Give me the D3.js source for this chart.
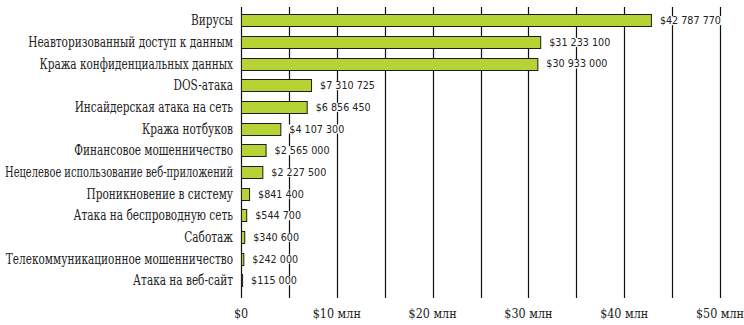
<!DOCTYPE html>
<html><head><meta charset="utf-8">
<script src="https://cdn.jsdelivr.net/npm/d3@7"></script>
<style>html,body{margin:0;padding:0;background:#fff;}svg{display:block;}</style>
</head><body>
<svg id="c" width="744" height="325"></svg>
<script>
const categories = [
  "Вирусы",
  "Неавторизованный доступ к данным",
  "Кража конфиденциальных данных",
  "DOS-атака",
  "Инсайдерская атака на сеть",
  "Кража нотбуков",
  "Финансовое мошенничество",
  "Нецелевое использование веб-приложений",
  "Проникновение в систему",
  "Атака на беспроводную сеть",
  "Саботаж",
  "Телекоммуникационное мошенничество",
  "Атака на веб-сайт"
];
const values = [42787770, 31233100, 30933000, 7310725, 6856450, 4107300, 2565000, 2227500, 841400, 544700, 340600, 242000, 115000];
const gridTicks = [0, 5e6, 10e6, 15e6, 20e6, 25e6, 30e6, 35e6, 40e6, 45e6, 50e6];
const tickLabels = [0, 10e6, 20e6, 30e6, 40e6, 50e6];

const svg = d3.select("#c");
const x = d3.scaleLinear().domain([0, 50e6]).range([241, 720]);
const y = d3.scaleBand().domain(categories).range([9.5, 291.3]).paddingInner(0.44).paddingOuter(0.22);

const serif = "'DejaVu Serif Condensed','DejaVu Serif','Liberation Serif',serif";
const sans = "'DejaVu Sans',Verdana,sans-serif";

// gridlines
svg.append("g").selectAll("line").data(gridTicks).join("line")
  .attr("x1", d => Math.round(x(d)) + 0.5).attr("x2", d => Math.round(x(d)) + 0.5)
  .attr("y1", 7).attr("y2", 298)
  .attr("stroke", "#111").attr("stroke-width", 1.2);

// axis labels
const fmtAxis = d => d === 0 ? "$0" : "$" + (d / 1e6) + " млн";
svg.append("g").selectAll("text").data(tickLabels).join("text")
  .attr("x", d => x(d)).attr("y", 318)
  .attr("text-anchor", "middle")
  .attr("font-family", serif).attr("font-size", 13.5).attr("fill", "#222")
  .attr("transform", d => `translate(${x(d)},0) scale(0.92,1) translate(${-x(d)},0)`)
  .text(fmtAxis);

// category labels (condensed slab look)
const sx = 0.836, maxW = 228;
svg.append("g").attr("transform", `translate(233,0) scale(${sx},1)`)
  .selectAll("text").data(categories).join("text")
  .attr("x", 0).attr("y", d => y(d) + y.bandwidth() / 2 + 5)
  .attr("text-anchor", "end")
  .attr("font-family", serif).attr("font-size", 14).attr("fill", "#222")
  .text(d => d)
  .each(function () {
    const w = this.getComputedTextLength();
    if (w * sx > maxW) {
      d3.select(this).attr("textLength", maxW / sx).attr("lengthAdjust", "spacingAndGlyphs");
    }
  });

// value labels with white background
const fmtVal = v => "$" + d3.format(",")(v).replace(/,/g, " ");
const lg = svg.append("g");
categories.forEach((c, i) => {
  const g = lg.append("g");
  const t = g.append("text")
    .attr("x", x(values[i]) + 9).attr("y", y(c) + y.bandwidth() / 2 + 3.8)
    .attr("font-family", sans).attr("font-size", 9.6).attr("fill", "#222")
    .text(fmtVal(values[i]));
  const bb = t.node().getBBox();
  g.insert("rect", "text").attr("x", bb.x - 1).attr("y", bb.y + 1).attr("width", bb.width + 2).attr("height", bb.height - 2).attr("fill", "#fff");
});

// bars
svg.append("g").selectAll("rect").data(categories).join("rect")
  .attr("x", x(0) + 0.5).attr("y", d => Math.round(y(d)) + 0.5)
  .attr("width", (d, i) => x(values[i]) - x(0))
  .attr("height", Math.round(y.bandwidth()))
  .attr("fill", "#b5d334").attr("stroke", "#1c1c1c").attr("stroke-width", 1);
</script>
</body></html>
